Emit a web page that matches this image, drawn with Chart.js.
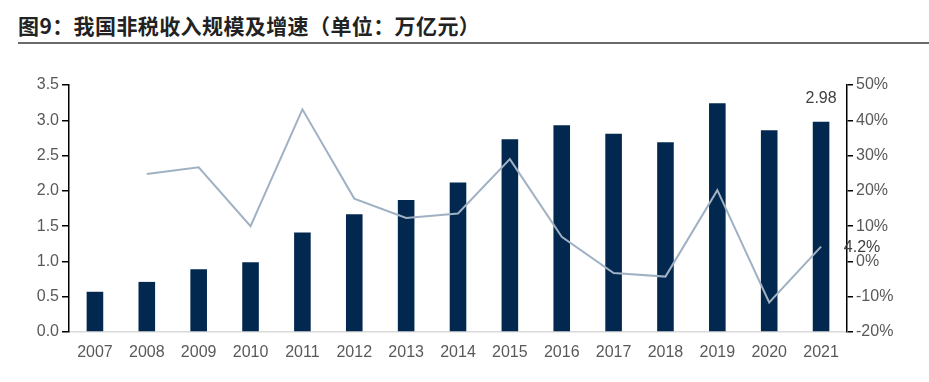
<!DOCTYPE html>
<html>
<head>
<meta charset="utf-8">
<script src="https://cdn.jsdelivr.net/npm/chart.js@4/dist/chart.umd.min.js"></script>
<style>
  html, body { margin: 0; padding: 0; background: #fff; }
  body { width: 929px; height: 382px; position: relative; overflow: hidden; }
  #title {
    position: absolute; left: 18px; top: 9px;
    font-family: "Noto Sans CJK SC", sans-serif; font-weight: bold;
    font-size: 21px; line-height: 32px; letter-spacing: 0.4px; color: #222;
  }
  #rule { position: absolute; left: 18px; right: 0; top: 42px; height: 2px; background: #6b6b6b; }
  #wrap { position: absolute; left: 0; top: 50px; width: 929px; height: 332px; }
</style>
</head>
<body>
<div id="title">图9：我国非税收入规模及增速（单位：万亿元）</div>
<div id="rule"></div>
<div id="wrap"><canvas id="nonTax"></canvas></div>
<script>
const years = ['2007', '2008', '2009', '2010', '2011', '2012', '2013', '2014', '2015', '2016', '2017', '2018', '2019', '2020', '2021'];
// 非税收入规模（万亿元）
const revenue = [0.57, 0.71, 0.89, 0.99, 1.41, 1.67, 1.87, 2.12, 2.73, 2.93, 2.81, 2.69, 3.24, 2.86, 2.98];
// 增速（%）
const growth = [null, 24.8, 26.7, 10.0, 43.1, 17.8, 12.3, 13.6, 29.0, 7.0, -3.3, -4.3, 20.2, -11.6, 4.2];

const tickColor = '#595959';
const tickFont = { family: 'Liberation Sans, Arial', size: 16 };

// labels for the last bar and the last point
const lastLabels = {
    id: 'lastLabels',
    afterDatasetsDraw(chart) {
        const ctx = chart.ctx;
        const lineMeta = chart.getDatasetMeta(0);
        const barMeta = chart.getDatasetMeta(1);
        const n = years.length - 1;
        ctx.save();
        ctx.font = '16px Liberation Sans, Arial';
        ctx.fillStyle = '#404040';
        ctx.textAlign = 'center';
        ctx.textBaseline = 'middle';
        const bar = barMeta.data[n];
        ctx.fillText(revenue[n].toFixed(2), bar.x, bar.y - 23);
        const pt = lineMeta.data[n];
        ctx.fillText(growth[n].toFixed(1) + '%', pt.x + 41, pt.y + 1);
        ctx.restore();
    }
};

new Chart(document.getElementById('nonTax'), {
    data: {
        labels: years,
        datasets: [{
            type: 'line',
            label: '增速',
            data: growth,
            yAxisID: 'y1',
            borderColor: '#9fb1c2',
            borderWidth: 2,
            pointRadius: 0,
            tension: 0,
            order: 0
        }, {
            type: 'bar',
            label: '非税收入',
            data: revenue,
            yAxisID: 'y',
            backgroundColor: '#02284f',
            categoryPercentage: 1,
            barPercentage: 0.32,
            order: 1
        }]
    },
    options: {
        responsive: true,
        maintainAspectRatio: false,
        animation: false,
        layout: { padding: { top: 35, left: 0, right: 0, bottom: 0 } },
        plugins: {
            legend: { display: false },
            tooltip: { enabled: false }
        },
        scales: {
            x: {
                offset: true,
                grid: { display: true, drawOnChartArea: false, drawTicks: false },
                border: { color: '#d9d9d9', width: 1.5 },
                ticks: { color: tickColor, font: tickFont, padding: 11, maxRotation: 0 },
                afterFit(scale) { scale.height = 50; }
            },
            y: {
                position: 'left',
                min: 0,
                max: 3.5,
                grid: { drawOnChartArea: false, color: '#000', tickLength: 7, lineWidth: 1.5 },
                border: { color: '#000', width: 1.5 },
                ticks: {
                    stepSize: 0.5,
                    color: tickColor,
                    font: tickFont,
                    padding: 3,
                    callback: v => v.toFixed(1)
                },
                afterFit(scale) { scale.width = 69; }
            },
            y1: {
                position: 'right',
                min: -20,
                max: 50,
                grid: { drawOnChartArea: false, color: '#000', tickLength: 6, lineWidth: 1.5 },
                border: { color: '#000', width: 1.5 },
                ticks: {
                    stepSize: 10,
                    color: tickColor,
                    font: tickFont,
                    padding: 3,
                    callback: v => v + '%'
                },
                afterFit(scale) { scale.width = 82; }
            }
        }
    },
    plugins: [lastLabels]
});
</script>
</body>
</html>
